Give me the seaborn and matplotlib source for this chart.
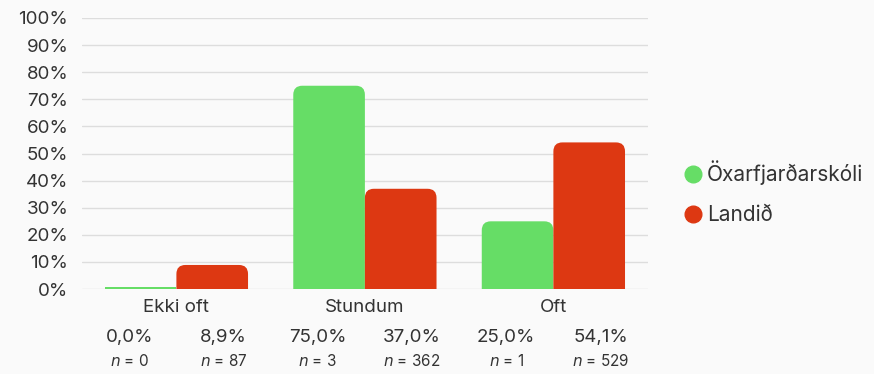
import numpy as np
import pandas as pd
import matplotlib
matplotlib.use('Agg')
import matplotlib.pyplot as plt
import seaborn as sns
from matplotlib.patches import FancyBboxPatch, Rectangle
from matplotlib.lines import Line2D
from matplotlib.ticker import PercentFormatter

# data
categories = ['Ekki oft', 'Stundum', 'Oft']
groups = ['Öxarfjarðarskóli', 'Landið']
school_pct = [0.0, 75.0, 25.0]
country_pct = [8.9, 37.0, 54.1]
school_n = [0, 3, 1]
country_n = [87, 362, 529]

colors = ['#66dd66', '#dd3812']
bg = '#fafafa'
txt = '#333333'

df = pd.DataFrame({
    'cat': categories * 2,
    'grp': [groups[0]] * 3 + [groups[1]] * 3,
    'pct': school_pct + country_pct,
})

sns.set_style('white')
plt.rcParams['font.family'] = ['Inter', 'DejaVu Sans']

fig = plt.figure(figsize=(8.74, 3.74), dpi=100, facecolor=bg)
ax = fig.add_axes([0.094, 0.227, 0.647, 0.725], facecolor=bg)

sns.barplot(data=df, x='cat', y='pct', hue='grp', order=categories,
            hue_order=groups, palette=colors, width=0.76, gap=0,
            saturation=1, legend=False, ax=ax)

# swap bars for ones with rounded tops (bottom corners hidden below y=0)
r_px = 9
px_x = ax.get_position().width * fig.get_figwidth() * fig.dpi / 3.0
px_y = ax.get_position().height * fig.get_figheight() * fig.dpi / 100.0
rx = r_px / px_x
ry = r_px / px_y
for p in list(ax.patches):
    x, w, h = p.get_x(), p.get_width(), p.get_height()
    fc = p.get_facecolor()
    p.remove()
    if h <= 0:
        ax.add_patch(Rectangle((x, 0), w, 0.6, fc=fc, lw=0, clip_on=False))
        continue
    y0 = -2.5 * ry
    ax.add_patch(FancyBboxPatch((x, y0), w, h - y0,
                                boxstyle=f'round,pad=0,rounding_size={rx}',
                                mutation_aspect=px_x / px_y, fc=fc, lw=0))

ax.set_xlim(-0.5, 2.5)
ax.set_ylim(0, 100)
ax.set_yticks(np.arange(0, 101, 10))
ax.yaxis.set_major_formatter(PercentFormatter(decimals=0))
ax.grid(axis='y', color='#dddddd', lw=1)
ax.set_axisbelow(True)
for s in ax.spines.values():
    s.set_visible(False)
ax.tick_params(axis='y', length=0, pad=10, labelsize=13.5, labelcolor=txt)
ax.tick_params(axis='x', length=0, pad=7, labelsize=13.5, labelcolor=txt)
ax.set_xlabel('')
ax.set_ylabel('')

# values and counts under each category
for i in range(len(categories)):
    for j, (pct, n) in enumerate([(school_pct[i], school_n[i]),
                                  (country_pct[i], country_n[i])]):
        xx = i - 0.25 + 0.5 * j
        lbl = f'{pct:.1f}%'.replace('.', ',')
        ax.annotate(lbl, (xx, 0), xycoords=('data', 'axes fraction'),
                    xytext=(0, -48), textcoords='offset pixels',
                    ha='center', va='center', fontsize=13.5, color=txt)
        ax.annotate(f'$n$ = {n}', (xx, 0), xycoords=('data', 'axes fraction'),
                    xytext=(0, -72), textcoords='offset pixels',
                    ha='center', va='center', fontsize=11, color=txt)

handles = [Line2D([], [], marker='o', ls='', markersize=12,
                  markerfacecolor=c, markeredgecolor=c) for c in colors]
fig.legend(handles, groups, loc='center left', bbox_to_anchor=(0.759, 0.485),
           frameon=False, fontsize=15, labelspacing=0.95, handletextpad=0.2,
           labelcolor=txt, handlelength=1.0)

fig.savefig('out.png', dpi=100, facecolor=bg)
